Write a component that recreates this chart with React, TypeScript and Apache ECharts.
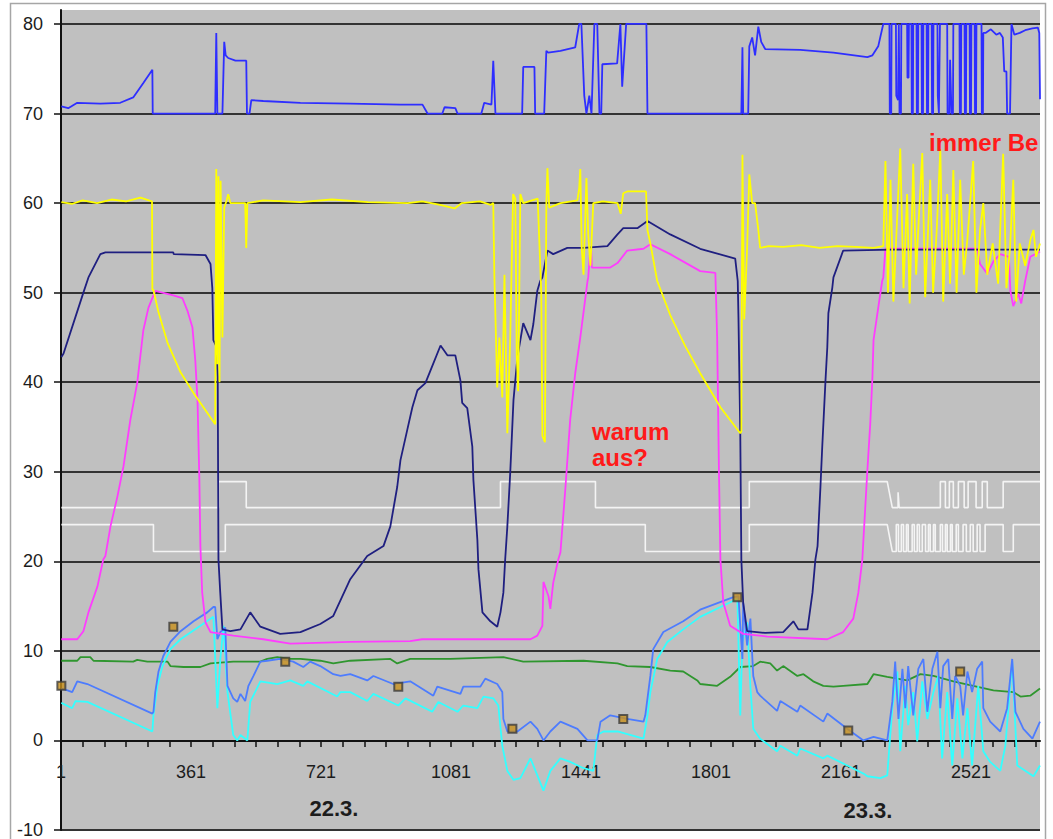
import React, { useEffect, useRef } from 'react';
import * as echarts from 'echarts';

type P = [number, number];

// x = sample index (1 ... 2711), y = value
const xTickLabels = ['1', '361', '721', '1081', '1441', '1801', '2161', '2521'];
const dayLabels = ['22.3.', '23.3.'];
const notes = ['warum', 'aus?', 'immer Be'];

const blueTop: P[] = [
  [1, 70.8], [20, 70.6], [45, 71.2], [109, 71.1], [164, 71.2], [200, 71.8], [228, 73.4], [253, 74.9], [254, 70],
  [427, 70], [430, 79], [433, 70], [447, 70], [452, 78], [456, 76.5], [463, 76.2], [483, 75.9], [513, 75.9], [515, 70],
  [522, 70], [527, 71.5], [560, 71.4], [663, 71.2], [801, 71.1], [940, 71], [1001, 71], [1015, 70], [1056, 70],
  [1062, 70.7], [1092, 70.6], [1098, 70], [1164, 70], [1172, 71.2], [1192, 71], [1197, 75.9], [1203, 70], [1277, 70],
  [1280, 75.2], [1311, 75.2], [1313, 70], [1338, 70], [1344, 77], [1349, 76.8], [1383, 77], [1424, 77.4], [1435, 80],
  [1441, 80], [1449, 72], [1455, 70], [1463, 72], [1469, 70], [1477, 80], [1485, 80], [1491, 70], [1496, 70],
  [1499, 75.5], [1540, 75.6], [1549, 80], [1554, 73], [1565, 80], [1621, 80], [1624, 70], [1884, 70], [1887, 77.4],
  [1889, 70], [1903, 70], [1906, 77.5], [1914, 78.5], [1922, 76.5], [1931, 79.7], [1939, 78], [1950, 77.2],
  [2047, 77.1], [2139, 76.8], [2233, 76.3], [2247, 76.5], [2263, 77.5], [2277, 80],
  [2294, 80], [2295, 70], [2299, 70], [2300, 80],
  [2312, 80], [2313, 72], [2318, 71.5], [2320, 80], [2322, 70], [2326, 70], [2327, 80],
  [2343, 80], [2344, 74], [2347, 74], [2348, 80],
  [2355, 80], [2356, 70], [2359, 70], [2360, 80],
  [2369, 80], [2370, 70], [2373, 70], [2374, 80],
  [2383, 80], [2384, 70], [2387, 70], [2388, 80],
  [2397, 80], [2398, 70], [2401, 70], [2402, 80],
  [2411, 80], [2412, 70], [2415, 70], [2416, 80],
  [2427, 80], [2428, 72], [2431, 70], [2434, 80],
  [2454, 80], [2455, 70], [2460, 70], [2462, 76], [2466, 70], [2470, 70], [2471, 80],
  [2488, 80], [2489, 70], [2492, 70], [2493, 80],
  [2502, 80], [2503, 70], [2506, 70], [2507, 80],
  [2516, 80], [2517, 70], [2520, 70], [2521, 80],
  [2530, 80], [2531, 70], [2534, 70], [2535, 80],
  [2549, 80], [2550, 70], [2553, 70], [2554, 79],
  [2560, 79], [2575, 79.4], [2590, 78.8], [2600, 79], [2608, 78.5], [2612, 74.7], [2618, 74.7], [2620, 70],
  [2628, 70], [2632, 80], [2640, 78.8], [2655, 79], [2670, 79.3], [2690, 79.5], [2705, 79.6], [2709, 79], [2711, 71.6],
];

const yellow: P[] = [
  [1, 60.1], [30, 59.9], [60, 60.3], [100, 60], [140, 60.4], [180, 60.2], [220, 60.6], [252, 60.2], [253, 50.3],
  [256, 50.3], [270, 47.8], [295, 44.4], [331, 41.1], [367, 38.8], [427, 35.3], [430, 63.8], [433, 42], [436, 63],
  [439, 40], [442, 62.5], [447, 45], [452, 59.5], [458, 60.2], [463, 61], [469, 60], [510, 60], [513, 55],
  [516, 60], [560, 60.3], [663, 60.1], [750, 60.4], [850, 60.1], [960, 60], [1000, 60.2], [1050, 59.8], [1090, 59.4],
  [1110, 60], [1160, 60.2], [1190, 59.8], [1197, 60], [1200, 52], [1208, 39.4], [1214, 45], [1222, 38.3],
  [1228, 52], [1236, 34.3], [1244, 45], [1252, 61], [1258, 60.5], [1262, 43], [1266, 39], [1272, 61], [1280, 60],
  [1320, 60.5], [1330, 50], [1333, 34], [1340, 33.3], [1344, 60], [1347, 63.9], [1352, 59.5], [1383, 60],
  [1430, 60.3], [1435, 61.7], [1438, 63.8], [1442, 55], [1447, 52], [1455, 62.8], [1460, 56.5], [1466, 53],
  [1474, 60], [1500, 60.2], [1541, 60], [1550, 58.8], [1557, 61.1], [1568, 61.3], [1620, 61.3], [1624, 57],
  [1632, 55.5], [1651, 51.3], [1687, 47.5], [1729, 44], [1770, 41], [1826, 37.2], [1881, 34.3], [1884, 34.5],
  [1887, 65.4], [1892, 47], [1900, 55], [1906, 63.2], [1914, 60], [1922, 60], [1931, 57], [1936, 55], [1960, 55.2],
  [2000, 55.1], [2050, 55.3], [2100, 55], [2150, 55.2], [2200, 55.1], [2250, 55], [2277, 55.2],
  [2283, 64.7], [2290, 50], [2297, 62.6], [2305, 49], [2315, 58], [2324, 66.1], [2333, 50.5], [2343, 61],
  [2350, 48.8], [2360, 64.4], [2368, 52], [2375, 58], [2385, 65.6], [2393, 49.5], [2400, 56], [2407, 62.6],
  [2415, 50], [2425, 57], [2435, 66], [2443, 49], [2454, 61], [2462, 51], [2471, 63.7], [2480, 50], [2490, 62.6],
  [2500, 52], [2510, 56], [2526, 64.7], [2535, 50], [2545, 57], [2554, 60], [2565, 52], [2580, 55.5], [2595, 51],
  [2609, 65.5], [2618, 50.5], [2628, 55], [2637, 62.6], [2645, 49], [2655, 55.5], [2670, 53], [2685, 56],
  [2693, 57], [2700, 54], [2711, 55.5],
];

const navy: P[] = [
  [1, 42.8], [7, 43.2], [62, 50], [76, 51.7], [109, 54.3], [123, 54.5], [311, 54.5], [312, 54.3], [400, 54.2],
  [414, 53.2], [419, 50.5], [422, 44.7], [430, 44], [434, 40.6], [436, 20.2], [441, 16.5], [447, 12.4], [469, 12.2],
  [497, 12.4], [524, 14.3], [552, 12.7], [607, 11.9], [663, 12.1], [718, 13], [754, 13.9], [801, 18], [848, 20.6],
  [893, 21.7], [912, 23.9], [931, 28.3], [940, 31.3], [959, 34.7], [973, 37.2], [987, 39.1], [1009, 39.9],
  [1023, 41.3], [1051, 44.1], [1070, 43], [1092, 43], [1106, 40.2], [1111, 37.7], [1125, 37.1], [1139, 32.8],
  [1142, 29.1], [1153, 22.4], [1156, 19.1], [1167, 14.3], [1189, 13.3], [1208, 12.7], [1217, 14.3], [1225, 16.5],
  [1230, 20.2], [1236, 23.9], [1244, 29.9], [1253, 38], [1264, 42.8], [1280, 46.6], [1300, 44.7], [1308, 46.5],
  [1319, 50.2], [1327, 51.3], [1333, 51.7], [1347, 54.7], [1363, 54.3], [1402, 55], [1447, 55], [1513, 55.2],
  [1541, 56.5], [1557, 57.2], [1596, 57.2], [1624, 58], [1687, 56.5], [1770, 54.9], [1867, 53.8], [1874, 51.3],
  [1876, 47.2], [1881, 34.3], [1884, 20.2], [1889, 15.4], [1900, 12.2], [1950, 12], [2000, 12.1], [2028, 13.3],
  [2042, 12.4], [2067, 12.4], [2081, 16.5], [2089, 20.2], [2095, 21.7], [2103, 28.3], [2108, 32.8], [2117, 40.2],
  [2122, 43.9], [2125, 47.7], [2136, 50.6], [2139, 51.7], [2166, 54.7], [2300, 54.8], [2500, 54.8], [2711, 54.8],
];

const magenta: P[] = [
  [1, 11.3], [45, 11.3], [62, 12.2], [76, 14.3], [101, 17.2], [117, 20.2], [123, 20.6], [137, 23.9], [156, 27.2],
  [173, 30.6], [192, 35.8], [211, 39.9], [228, 45.8], [242, 48.3], [261, 50.2], [311, 49.7], [336, 49.4], [350, 48],
  [364, 46.1], [372, 42.4], [378, 38], [383, 29.4], [386, 21.7], [391, 16.5], [400, 13.2], [414, 12.1], [477, 11.7],
  [560, 11.3], [635, 10.8], [801, 11], [967, 11.1], [1000, 11.3], [1300, 11.3], [1319, 11.7], [1333, 12.8],
  [1336, 17.7], [1350, 16.1], [1355, 14.7], [1363, 17.6], [1377, 20.2], [1383, 21], [1397, 28.3], [1410, 35.8],
  [1424, 41], [1438, 45], [1452, 49.4], [1458, 51.3], [1460, 51.7], [1466, 55], [1468, 55], [1470, 52.8],
  [1521, 52.8], [1541, 53.3], [1568, 54.7], [1613, 54.9], [1632, 55.4], [1687, 54.3], [1770, 52.4], [1812, 52.2],
  [1817, 45], [1822, 30], [1826, 20.2], [1834, 15.4], [1853, 12.8], [1889, 11.9], [1956, 11.6], [2122, 11.3],
  [2166, 12.1], [2194, 13.6], [2208, 16.5], [2219, 20.2], [2222, 22.4], [2233, 30.2], [2241, 35.4], [2247, 40.6],
  [2250, 44.7], [2263, 48.3], [2274, 51.3], [2277, 51.7], [2283, 54.9], [2537, 54.9], [2545, 53.2], [2565, 52.1],
  [2582, 53.5], [2601, 54.3], [2625, 54], [2629, 50.2], [2637, 48.5], [2651, 49.9], [2659, 48.8], [2670, 51.3],
  [2684, 54], [2711, 54.6],
];

const whiteUpper: P[] = [
  [1, 26], [436, 26], [436, 28.9], [513, 28.9], [513, 26], [1217, 26], [1217, 28.9], [1480, 28.9], [1480, 26],
  [1906, 26], [1906, 28.9], [2288, 28.9], [2302, 26], [2318, 26], [2318, 27.7], [2321, 26], [2435, 26],
  [2435, 28.9], [2449, 28.9], [2449, 26], [2460, 26], [2460, 28.9], [2471, 28.9], [2471, 26], [2485, 26],
  [2485, 28.9], [2501, 28.9], [2501, 26], [2512, 26], [2512, 28.9], [2534, 28.9], [2534, 26], [2551, 26],
  [2551, 28.9], [2565, 28.9], [2565, 26], [2609, 26], [2609, 28.9], [2711, 28.9],
];

const whiteLower: P[] = [
  [1, 24.1], [256, 24.1], [256, 21.1], [455, 21.1], [455, 24.1], [1618, 24.1], [1618, 21.1], [1906, 21.1],
  [1906, 24.1], [2288, 24.1], [2302, 21.1],
  [2313, 21.1], [2313, 24.1], [2319, 24.1], [2319, 21.1], [2327, 21.1], [2327, 24.1], [2333, 24.1], [2333, 21.1],
  [2341, 21.1], [2341, 24.1], [2346, 24.1], [2346, 21.1], [2357, 21.1], [2357, 24.1], [2363, 24.1], [2363, 21.1],
  [2371, 21.1], [2371, 24.1], [2377, 24.1], [2377, 21.1], [2385, 21.1], [2385, 24.1], [2394, 24.1], [2394, 21.1],
  [2402, 21.1], [2402, 24.1], [2407, 24.1], [2407, 21.1], [2416, 21.1], [2416, 24.1], [2421, 24.1], [2421, 21.1],
  [2435, 21.1], [2435, 24.1], [2441, 24.1], [2441, 21.1], [2449, 21.1], [2449, 24.1], [2454, 24.1], [2454, 21.1],
  [2463, 21.1], [2463, 24.1], [2468, 24.1], [2468, 21.1], [2479, 21.1], [2479, 24.1], [2485, 24.1], [2485, 21.1],
  [2498, 21.1], [2498, 24.1], [2507, 24.1], [2507, 21.1], [2518, 21.1], [2518, 24.1], [2526, 24.1], [2526, 21.1],
  [2537, 21.1], [2537, 24.1], [2545, 24.1], [2545, 21.1], [2559, 21.1], [2559, 24.1], [2609, 24.1], [2609, 21.1],
  [2637, 21.1], [2637, 24.1], [2711, 24.1],
];

const lightBlue: P[] = [
  [1, 5.8], [18, 5.6], [31, 5.4], [45, 6.6], [73, 6.3], [253, 3.0], [256, 3.2], [261, 5.4], [270, 7.7], [283, 9.4],
  [303, 11], [331, 12.2], [367, 13.3], [405, 14.3], [422, 14.9], [427, 14.9], [433, 11.3], [441, 12.1], [455, 12.6],
  [461, 6.1], [477, 4.7], [488, 4.3], [497, 5.2], [510, 4.4], [519, 6.1], [533, 7.2], [552, 8.8], [571, 8.9],
  [607, 9.1], [643, 8.8], [671, 8.2], [690, 8.8], [718, 8.3], [754, 7.4], [774, 7.2], [801, 7.4], [848, 6.7],
  [865, 7.2], [920, 6.3], [967, 6.6], [1031, 5.0], [1042, 6], [1106, 5.2], [1114, 6], [1161, 6], [1175, 6.9],
  [1208, 6.3], [1222, 5.4], [1225, 2.4], [1236, 1.0], [1264, 1.0], [1300, 2.1], [1319, 1.3], [1336, 0], [1355, 1],
  [1383, 2.1], [1430, 1.3], [1458, 0], [1485, 0], [1494, 2.1], [1521, 2.8], [1568, 2.4], [1613, 2.1], [1618, 2.8],
  [1632, 7.2], [1640, 10.2], [1668, 12.1], [1723, 13.3], [1770, 14.6], [1862, 16], [1876, 16.1], [1881, 12.8],
  [1887, 9.1], [1889, 15.4], [1900, 10.6], [1909, 13.6], [1917, 7.2], [1928, 5.4], [1936, 5], [1983, 3.3],
  [1992, 4.4], [2039, 3.2], [2047, 3.9], [2111, 2.1], [2122, 3], [2177, 1.3], [2222, 0], [2250, 0.4], [2288, 0],
  [2302, 4.3], [2310, 8.8], [2319, 2.4], [2330, 8], [2338, 3.6], [2346, 8.3], [2360, 2.8], [2374, 8], [2388, 9.1],
  [2399, 3.2], [2413, 8], [2427, 9.9], [2435, 3.6], [2443, 8.3], [2457, 9.1], [2468, 2.4], [2476, 7.2],
  [2490, 6.1], [2498, 2.8], [2510, 7.7], [2523, 5.4], [2537, 8], [2551, 8.8], [2554, 3.6], [2573, 2.1], [2601, 1],
  [2620, 3.6], [2634, 9.1], [2643, 3.2], [2665, 1.3], [2690, 0.2], [2711, 2.1],
];

const cyan: P[] = [
  [1, 4.2], [31, 3.6], [40, 4.4], [73, 4.3], [253, 1], [256, 2.8], [267, 6.1], [281, 8.3], [303, 10.2], [331, 11.3],
  [386, 12.8], [422, 13.8], [433, 3.6], [441, 9], [450, 12.8], [461, 5.4], [477, 0.6], [488, 0], [497, 0.6],
  [516, 0], [524, 4.3], [552, 6.6], [599, 6.3], [635, 6.7], [671, 6.1], [682, 6.6], [765, 4.9], [774, 5.4],
  [801, 5.4], [848, 4.4], [865, 5.2], [934, 3.9], [954, 4.7], [1028, 3.2], [1045, 4.3], [1098, 3.2], [1114, 3.9],
  [1153, 3.6], [1170, 4.9], [1197, 4.7], [1211, 3.9], [1222, -0.6], [1236, -3.4], [1253, -4.4], [1272, -4.2],
  [1300, -2], [1314, -3.4], [1336, -5.6], [1355, -3.4], [1383, -2], [1410, -2.4], [1447, -3.1], [1474, -3.4],
  [1485, 0.6], [1502, 1], [1541, 1], [1613, 0.2], [1624, 2.8], [1632, 5.4], [1651, 9.1], [1679, 11], [1723, 12.4],
  [1770, 13.8], [1862, 15.6], [1873, 15.8], [1881, 2.8], [1887, 11], [1900, 13.2], [1909, 6], [1917, 1.3],
  [1936, 0.2], [1983, -1.2], [1992, -0.6], [2039, -1.7], [2047, -0.9], [2111, -2], [2122, -1.7], [2177, -2.8],
  [2222, -3.7], [2233, -4], [2269, -4.2], [2288, -3.9], [2302, 3.6], [2316, 7.7], [2324, -1.2], [2338, 6.1],
  [2346, 1.7], [2360, 5.4], [2371, -0.1], [2385, 6.6], [2399, 2.4], [2416, 5.4], [2429, 7.2], [2440, -2],
  [2454, 5.4], [2468, -2.8], [2482, 4.7], [2496, -2], [2510, 3.6], [2523, -2.8], [2540, 6.1], [2554, -1.2],
  [2573, -2.4], [2601, -3.4], [2615, -0.6], [2634, 8.8], [2648, -2.8], [2693, -4], [2711, -2.8],
];

const green: P[] = [
  [1, 8.9], [45, 8.9], [54, 9.3], [81, 9.3], [90, 8.9], [200, 8.8], [211, 9], [239, 8.8], [295, 8.8], [303, 8.3],
  [339, 8.2], [386, 8.2], [414, 8.6], [477, 8.8], [552, 8.8], [571, 9.1], [599, 9.3], [635, 9.1], [663, 9.1],
  [718, 8.9], [754, 8.6], [801, 8.9], [912, 9.1], [931, 8.6], [967, 9.1], [1078, 9.1], [1225, 9.3], [1280, 8.8],
  [1447, 8.9], [1541, 8.6], [1568, 8.3], [1632, 8.2], [1687, 7.8], [1723, 7.7], [1762, 6.7], [1770, 6.3],
  [1817, 6.1], [1853, 7.1], [1881, 8.2], [1917, 8.3], [1936, 8.8], [1964, 8.6], [1983, 7.8], [2000, 8.3],
  [2039, 7.2], [2056, 7.4], [2083, 6.6], [2111, 6.1], [2139, 6], [2166, 6.1], [2233, 6.3], [2250, 7.4],
  [2288, 7.1], [2343, 6.7], [2380, 7.4], [2416, 7.2], [2471, 6.6], [2526, 6.1], [2582, 5.6], [2637, 5.4],
  [2657, 4.9], [2684, 5.0], [2711, 5.8],
];

const markers: P[] = [
  [1, 6.1], [311, 12.7], [621, 8.8], [934, 6.0], [1250, 1.3], [1557, 2.4], [1873, 16], [2180, 1.1], [2490, 7.7],
];

const FONT = '"Liberation Sans", Arial, sans-serif';

export default function App() {
  const ref = useRef<HTMLDivElement>(null);

  useEffect(() => {
    if (!ref.current) return;
    const chart = echarts.init(ref.current, null, { renderer: 'svg' });

    const line = (name: string, data: P[], color: string, width = 1.8) => ({
      type: 'line',
      name,
      data,
      xAxisIndex: 0,
      yAxisIndex: 0,
      showSymbol: false,
      symbol: 'none',
      silent: true,
      lineStyle: { color, width },
      itemStyle: { color },
      emphasis: { disabled: true },
    });

    const redText = (text: string, x: number, y: number) => ({
      type: 'text',
      x,
      y,
      z: 100,
      silent: true,
      style: {
        text,
        fill: '#ff1a1a',
        fontSize: 24,
        fontWeight: 'bold',
        fontFamily: FONT,
        align: 'left',
        verticalAlign: 'middle',
        textAlign: 'left',
        textVerticalAlign: 'middle',
      },
    });

    const dayText = (text: string, x: number, y: number) => ({
      type: 'text',
      x,
      y,
      z: 100,
      silent: true,
      style: {
        text,
        fill: '#1c1c1c',
        fontSize: 22,
        fontWeight: 'bold',
        fontFamily: FONT,
        align: 'center',
        verticalAlign: 'middle',
        textAlign: 'center',
        textVerticalAlign: 'middle',
      },
    });

    chart.setOption({
      animation: false,
      backgroundColor: '#ffffff',
      grid: [
        {
          left: 61,
          right: 13,
          top: 10,
          bottom: 9,
          show: true,
          backgroundColor: '#c0c0c0',
          borderWidth: 0,
          containLabel: false,
          outerBoundsMode: 'none',
        },
        {
          // helper grid whose bottom edge sits on the value 0 line of the main grid
          left: 61,
          right: 13,
          top: 10,
          bottom: 98,
          show: false,
          containLabel: false,
          outerBoundsMode: 'none',
        },
      ],
      xAxis: [
        {
          gridIndex: 0,
          type: 'value',
          min: 0,
          max: 2711,
          interval: 60,
          show: false,
        },
        {
          gridIndex: 1,
          type: 'value',
          position: 'bottom',
          min: 0,
          max: 2711,
          interval: 60,
          axisLine: { onZero: false, lineStyle: { color: '#111111', width: 2 } },
          axisTick: { show: true, length: 6, lineStyle: { color: '#111111', width: 1.5 } },
          axisLabel: {
            margin: 22,
            fontSize: 18,
            color: '#1c1c1c',
            fontFamily: FONT,
            showMaxLabel: false,
            formatter: (v: number) => {
              if (Math.round(v) % 360 !== 0) return '';
              const i = Math.round(v) / 360;
              return xTickLabels[i] ?? '';
            },
          },
          splitLine: { show: false },
        },
      ],
      yAxis: [
        {
          gridIndex: 0,
          type: 'value',
          min: -10,
          max: 81.56,
          interval: 10,
          axisLine: { show: true, onZero: false, lineStyle: { color: '#111111', width: 2 } },
          axisTick: { show: true, length: 7, lineStyle: { color: '#111111', width: 1.5 } },
          axisLabel: {
            margin: 18,
            fontSize: 18,
            color: '#1c1c1c',
            fontFamily: FONT,
            showMaxLabel: false,
          },
          splitLine: { show: true, showMaxLine: false, lineStyle: { color: '#333333', width: 2 } },
        },
        {
          gridIndex: 1,
          type: 'value',
          min: 0,
          max: 1,
          show: false,
        },
      ],
      graphic: {
        elements: [
          {
            type: 'rect',
            silent: true,
            z: -10,
            shape: { x: 10.5, y: 3.5, width: 1035, height: 860 },
            style: { fill: 'none', stroke: '#a6a6a6', lineWidth: 1.5 },
          },
          redText(notes[0], 592, 431),
          redText(notes[1], 592, 457),
          redText(notes[2], 929, 142),
          dayText(dayLabels[0], 334, 808),
          dayText(dayLabels[1], 868, 810),
        ],
      },
      series: [
        line('white A', whiteUpper, '#f4f4f4', 1.6),
        line('white B', whiteLower, '#f4f4f4', 1.6),
        line('green', green, '#2f962f'),
        line('cyan', cyan, '#33ffff'),
        line('lightblue', lightBlue, '#4d7cfe'),
        line('magenta', magenta, '#ff3cff'),
        line('navy', navy, '#1f1f80'),
        line('yellow', yellow, '#ffff00'),
        line('blue', blueTop, '#2e2eff'),
        {
          type: 'scatter',
          name: 'marks',
          xAxisIndex: 0,
          yAxisIndex: 0,
          data: markers,
          symbol: 'rect',
          symbolSize: 8,
          silent: true,
          z: 5,
          itemStyle: { color: '#c8901a', borderColor: '#3c3c3c', borderWidth: 2 },
        },
      ],
    });

    return () => chart.dispose();
  }, []);

  return (
    <div
      ref={ref}
      style={{ position: 'fixed', left: 0, top: 0, width: 1053, height: 839 }}
    />
  );
}
